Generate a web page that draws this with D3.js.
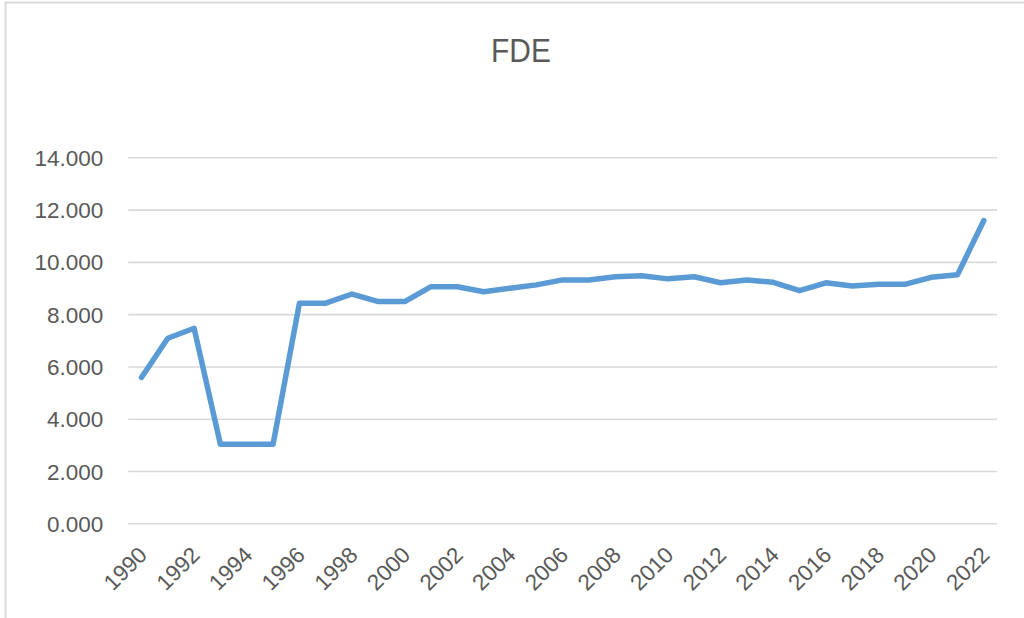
<!DOCTYPE html>
<html>
<head>
<meta charset="utf-8">
<script src="https://cdn.jsdelivr.net/npm/d3@7"></script>
<style>
  body { margin: 0; background: #fff; }
  svg text { fill: #595959; }
</style>
</head>
<body>
<div id="chart"></div>
<script>
// Data
let years = d3.range(1990, 2023).map(String);
let fdeValues = [5.58, 7.08, 7.46, 3.02, 3.02, 3.02, 8.42, 8.42, 8.77, 8.48,
  8.48, 9.05, 9.05, 8.86, 8.99, 9.12, 9.31, 9.31, 9.43, 9.47,
  9.35, 9.43, 9.20, 9.31, 9.22, 8.90, 9.20, 9.08, 9.14, 9.14,
  9.41, 9.51, 11.58];
let yTicks = [0, 2, 4, 6, 8, 10, 12, 14];
let xTickLabels = years.filter((d, i) => i % 2 === 0);

let svgWidth = 1024;
let svgHeight = 618;

let margin = { top: 157.3, right: 27, bottom: 94.7, left: 128.3 };
let width = svgWidth - margin.left - margin.right;
let height = svgHeight - margin.top - margin.bottom;

let svg = d3.select("#chart")
  .append("svg")
  .attr("width", svgWidth)
  .attr("height", svgHeight);

// outer chart border
svg.append("rect")
  .attr("x", 5.5)
  .attr("y", 2.5)
  .attr("width", svgWidth + 10)
  .attr("height", svgHeight + 10)
  .attr("fill", "none")
  .attr("stroke", "#d9d9d9")
  .attr("stroke-width", 2);

// title
svg.append("text")
  .attr("transform", "translate(521, 62) scale(0.88, 1)")
  .attr("text-anchor", "middle")
  .style("font-family", "'Liberation Sans', sans-serif")
  .style("font-size", "34px")
  .text("FDE");

let chartGroup = svg.append("g")
  .attr("transform", `translate(${margin.left}, ${margin.top})`);

// scales
let xScale = d3.scalePoint()
  .domain(years)
  .range([0, width])
  .padding(0.5);

let yScale = d3.scaleLinear()
  .domain([0, 14])
  .range([height, 0]);

// gridlines + y labels
let leftAxis = d3.axisLeft(yScale)
  .tickValues(yTicks)
  .tickSize(-width)
  .tickFormat(d3.format(".3f"))
  .tickPadding(25);

let yAxis = chartGroup.append("g").call(leftAxis);
yAxis.select(".domain").remove();
yAxis.selectAll("line")
  .attr("stroke", "#d9d9d9")
  .attr("stroke-width", 1.6);
yAxis.selectAll("text")
  .style("fill", "#595959")
  .style("font-family", "'Liberation Sans', Arial, sans-serif")
  .style("font-size", "22.5px")
  .attr("dy", "0.36em");

// x axis labels
let bottomAxis = d3.axisBottom(xScale)
  .tickValues(xTickLabels)
  .tickSize(0)
  .tickPadding(0);

let xAxis = chartGroup.append("g")
  .attr("transform", `translate(0, ${height})`)
  .call(bottomAxis);
xAxis.select(".domain").remove();
xAxis.selectAll("text")
  .style("fill", "#595959")
  .style("font-family", "'Liberation Sans', Arial, sans-serif")
  .style("font-size", "22.5px")
  .attr("text-anchor", "end")
  .attr("dy", null)
  .attr("y", 0)
  .attr("transform", "translate(6.5, 33) rotate(-45)");

// line
let line = d3.line()
  .x((d, i) => xScale(years[i]))
  .y(d => yScale(d));

chartGroup.append("path")
  .datum(fdeValues)
  .attr("d", line)
  .attr("fill", "none")
  .attr("stroke", "#5b9bd5")
  .attr("stroke-width", 5.5)
  .attr("stroke-linejoin", "round")
  .attr("stroke-linecap", "round");
</script>
</body>
</html>
